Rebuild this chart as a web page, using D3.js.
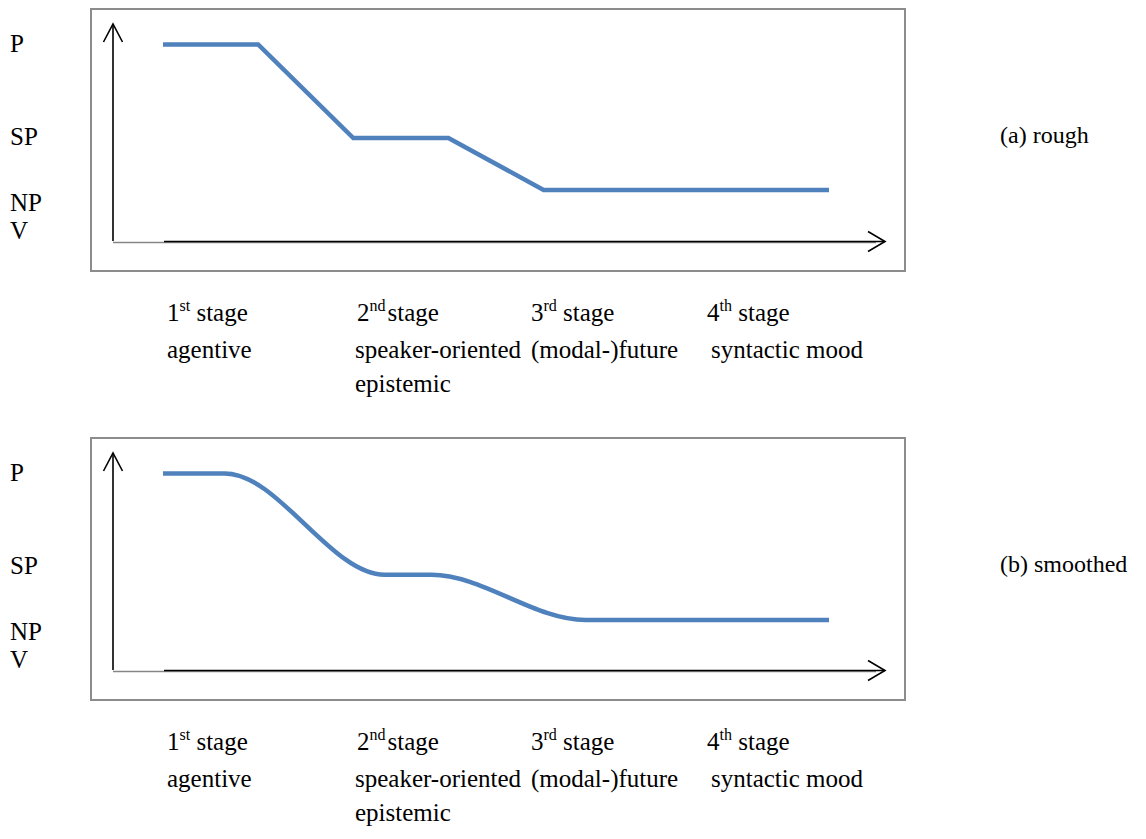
<!DOCTYPE html>
<html>
<head>
<meta charset="utf-8">
<script src="https://cdn.jsdelivr.net/npm/d3@7"></script>
<style>
  html, body { margin: 0; padding: 0; background: #fff; }
  text { font-family: Liberation Serif, Tinos, DejaVu Serif, serif; }
</style>
</head>
<body>
<svg id="chart" width="1146" height="839"></svg>
<script>
// ---------- data ----------
const levelLabels = ["P", "SP", "NP", "V"];
const stageNums = ["1", "2", "3", "4"];
const stageSups = ["st", "nd", "rd", "th"];
const stageNames = ["agentive", "speaker-oriented", "(modal-)future", "syntactic mood"];
const stageExtra = ["", "epistemic", "", ""];
const panelTitles = ["(a) rough", "(b) smoothed"];

// rough series: 8 equally spaced points
const roughX = [0, 1, 2, 3, 4, 5, 6, 7];
const roughY = [3.8, 3.8, 2.0, 2.0, 1.0, 1.0, 1.0, 1.0];
// smoothed series
const smoothX = [0, 0.65, 2.33, 2.82, 4.44, 7];
const smoothY = [3.8, 3.8, 1.85, 1.85, 0.98, 0.98];

// ---------- layout ----------
const svg = d3.select("#chart");
const FONT = "Liberation Serif, Tinos, DejaVu Serif, serif";
const FS = 25;
const panels = [
  { top: 9, xs: roughX, ys: roughY, curve: d3.curveLinear, title: panelTitles[0] },
  { top: 438, xs: smoothX, ys: smoothY, curve: d3.curveMonotoneX, title: panelTitles[1] }
];
const boxL = 91, boxR = 905, boxH = 262;
const yAxisX = 113;
const x = d3.scaleLinear().domain([0, 7]).range([163, 829]);
const labelX = [167, 357, 531, 707];
const nameX = [167, 355, 531, 711];
const levelOffsets = [43, 136, 202, 230]; // baselines relative to panel top

function txt(g, xx, yy, fs) {
  return g.append("text").attr("x", xx).attr("y", yy)
    .style("font-family", FONT).style("font-size", (fs || FS) + "px").attr("fill", "#000");
}

panels.forEach((p, pi) => {
  const g = svg.append("g");
  const axisY = p.top + 233;
  const y = d3.scaleLinear().domain([0, 4]).range([axisY, axisY - 208]);

  // frame
  g.append("rect")
    .attr("x", boxL).attr("y", p.top)
    .attr("width", boxR - boxL).attr("height", boxH)
    .attr("fill", "none").attr("stroke", "#8c8c8c").attr("stroke-width", 2);

  // gray category axis
  g.append("line")
    .attr("x1", yAxisX).attr("x2", 876)
    .attr("y1", axisY + 0.5).attr("y2", axisY + 0.5)
    .attr("stroke", "#868686").attr("stroke-width", 1.5);

  // black arrows
  const arrow = g.append("g").attr("stroke", "#000").attr("fill", "none").attr("stroke-width", 1.6);
  arrow.append("line").attr("x1", yAxisX).attr("x2", yAxisX)
    .attr("y1", axisY - 1).attr("y2", p.top + 15);
  arrow.append("polyline")
    .attr("points", `${yAxisX - 9.5},${p.top + 33} ${yAxisX},${p.top + 15} ${yAxisX + 9.5},${p.top + 33}`);
  arrow.append("line").attr("x1", 164).attr("x2", 885)
    .attr("y1", axisY - 0.5).attr("y2", axisY - 0.5);
  arrow.append("polyline")
    .attr("points", `868,${axisY - 10.5} 885,${axisY - 0.5} 868,${axisY + 9.5}`);

  // series line
  const pts = p.xs.map((v, i) => [v, p.ys[i]]);
  const line = d3.line().x(d => x(d[0])).y(d => y(d[1])).curve(p.curve);
  g.append("path")
    .attr("d", line(pts))
    .attr("fill", "none")
    .attr("stroke", "#4f81bd")
    .attr("stroke-width", 4.5)
    .attr("stroke-linejoin", "miter");

  // level labels on the left
  levelLabels.forEach((t, i) => {
    txt(g, 10, p.top + levelOffsets[i]).text(t);
  });

  // panel title on the right
  txt(g, 1000, p.top + 134, 24).text(p.title);

  // stage labels below
  const row1 = p.top + 262 + 50;
  const row2 = row1 + 37;
  const row3 = row2 + 34;
  stageNums.forEach((n, i) => {
    const t = txt(g, labelX[i], row1);
    t.append("tspan").text(n);
    t.append("tspan").style("font-size", "16px").attr("dy", -10).text(stageSups[i]);
    t.append("tspan").attr("dy", 10).attr("dx", i === 1 ? 2 : 0).text(i === 1 ? "stage" : " stage");
    txt(g, nameX[i], row2).text(stageNames[i]);
    if (stageExtra[i]) {
      txt(g, nameX[i], row3).text(stageExtra[i]);
    }
  });
});
</script>
</body>
</html>
